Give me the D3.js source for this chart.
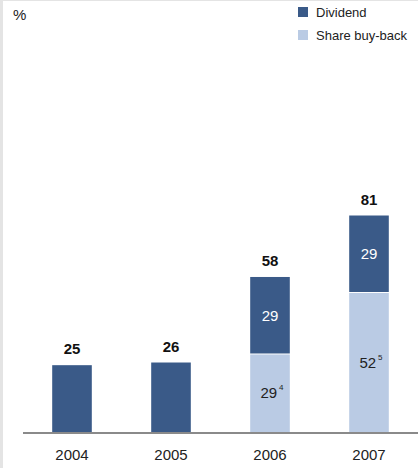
<!DOCTYPE html>
<html lang="en">
<head>
    <title>Payout</title>
    <script src="https://d3js.org/d3.v7.min.js"></script>
    <style>
        body { margin: 0; background: #fff; }
        * { font-family: Arial, "Liberation Sans", sans-serif; }
        .total { font-weight: bold; font-size: 15px; fill: #111; text-anchor: middle; }
        .inner { font-size: 15px; text-anchor: middle; }
        .year { font-size: 15px; fill: #222; text-anchor: middle; }
        .legend { font-size: 13px; fill: #222; }
    </style>
</head>
<body>
<svg class="chart"></svg>
<script>
// data
const years = ["2004", "2005", "2006", "2007"];
const dividend = [25, 26, 29, 29];
const buyback = [0, 0, 29, 52];
const totals = [25, 26, 58, 81];
const footnotes = ["", "", "4", "5"];

const w = 418, h = 468;
const baseline = 432;
const darkBlue = "#3a5a88";
const lightBlue = "#bacbe4";

const svg = d3.select("svg.chart")
    .attr("width", w)
    .attr("height", h);

// frame edges
svg.append("rect").attr("x", 0).attr("y", 0).attr("width", 3).attr("height", h).attr("fill", "#e4e4e4");
svg.append("rect").attr("x", 0).attr("y", 0).attr("width", w).attr("height", 1).attr("fill", "#e4e4e4");

const x = d3.scaleBand()
    .domain(years)
    .range([22.5, 418.5])
    .paddingInner(0.6)
    .paddingOuter(0.3);

const y = d3.scaleLinear()
    .domain([0, 81])
    .range([baseline, baseline - 216.5]);

const rows = years.map((yr, i) => ({
    year: yr, div: dividend[i], buy: buyback[i], total: totals[i], note: footnotes[i]
}));

// buy-back segment (bottom)
svg.append("g").selectAll("rect")
    .data(rows.filter(d => d.buy > 0))
    .join("rect")
    .attr("x", d => x(d.year))
    .attr("width", x.bandwidth())
    .attr("y", d => y(d.buy))
    .attr("height", d => y(0) - y(d.buy))
    .attr("fill", lightBlue);

// dividend segment (top)
svg.append("g").selectAll("rect")
    .data(rows)
    .join("rect")
    .attr("x", d => x(d.year))
    .attr("width", x.bandwidth())
    .attr("y", d => y(d.buy + d.div))
    .attr("height", d => y(d.buy) - y(d.buy + d.div) - (d.buy > 0 ? 1 : 0))
    .attr("fill", darkBlue);

// totals
svg.append("g").selectAll("text")
    .data(rows)
    .join("text")
    .attr("class", "total")
    .attr("x", d => x(d.year) + x.bandwidth() / 2)
    .attr("y", d => y(d.total) - 11)
    .text(d => d.total);

// inner labels for stacked bars
const stacked = rows.filter(d => d.buy > 0);
svg.append("g").selectAll("text")
    .data(stacked)
    .join("text")
    .attr("class", "inner")
    .attr("fill", "#fff")
    .attr("x", d => x(d.year) + x.bandwidth() / 2)
    .attr("y", d => (y(d.buy) + y(d.buy + d.div)) / 2 + 5)
    .text(d => d.div);

const buyText = svg.append("g").selectAll("text")
    .data(stacked)
    .join("text")
    .attr("class", "inner")
    .attr("fill", "#222")
    .attr("x", d => x(d.year) + x.bandwidth() / 2 + 2)
    .attr("y", d => (y(0) + y(d.buy)) / 2 + 5);
buyText.append("tspan").text(d => d.buy);
buyText.append("tspan")
    .attr("font-size", "8px")
    .attr("dx", 2)
    .attr("dy", -8)
    .text(d => d.note);

// axis line
svg.append("line")
    .attr("x1", 23).attr("x2", 418)
    .attr("y1", baseline + 1).attr("y2", baseline + 1)
    .attr("stroke", "#8a8a8a")
    .attr("stroke-width", 2);

// year labels
svg.append("g").selectAll("text")
    .data(years)
    .join("text")
    .attr("class", "year")
    .attr("x", d => x(d) + x.bandwidth() / 2)
    .attr("y", 460)
    .text(d => d);

// unit
svg.append("text")
    .attr("x", 13).attr("y", 20)
    .attr("font-size", "15px")
    .attr("fill", "#222")
    .text("%");

// legend
const legend = [
    {label: "Dividend", color: darkBlue},
    {label: "Share buy-back", color: lightBlue}
];
const lg = svg.append("g").selectAll("g")
    .data(legend)
    .join("g")
    .attr("transform", (d, i) => "translate(298," + (7 + i * 23) + ")");
lg.append("rect").attr("width", 10).attr("height", 10).attr("fill", d => d.color);
lg.append("text").attr("class", "legend").attr("x", 18).attr("y", 10).text(d => d.label);
</script>
</body>
</html>
